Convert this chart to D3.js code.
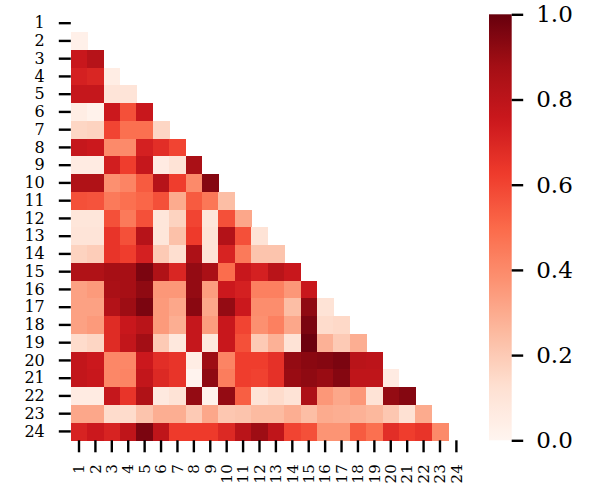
<!DOCTYPE html>
<html>
<head>
<meta charset="utf-8">
<script src="https://cdn.jsdelivr.net/npm/d3@7/dist/d3.min.js"></script>
<style>
  html, body { margin: 0; padding: 0; background: #fff; }
  text { font-family: "DejaVu Serif", serif; fill: #000; }
</style>
</head>
<body>
<svg id="chart" width="596" height="491"></svg>
<script>
// ---- data ----
const labels = d3.range(1, 25).map(String);
const colorbarTicks = [0.0, 0.2, 0.4, 0.6, 0.8, 1.0];
const redsColors = ["#fff5f0","#fee0d2","#fcbba1","#fc9272","#fb6a4a","#ef3b2c","#cb181d","#a50f15","#67000d"];
// lower triangle (row i has values for columns 1..i-1)
const corrRows = [
  [],
  [0.03],
  [0.76,0.82],
  [0.72,0.70,0.05],
  [0.77,0.77,0.10,0.10],
  [0.05,0.02,0.75,0.57,0.76],
  [0.16,0.17,0.60,0.48,0.48,0.16],
  [0.77,0.75,0.40,0.40,0.72,0.67,0.60],
  [0.06,0.06,0.73,0.62,0.77,0.06,0.11,0.86],
  [0.84,0.84,0.38,0.42,0.54,0.82,0.62,0.40,0.94],
  [0.57,0.56,0.45,0.48,0.51,0.57,0.30,0.54,0.46,0.24],
  [0.09,0.09,0.57,0.45,0.57,0.09,0.17,0.60,0.09,0.57,0.31],
  [0.10,0.10,0.65,0.57,0.82,0.09,0.23,0.63,0.11,0.83,0.57,0.11],
  [0.17,0.19,0.65,0.62,0.72,0.20,0.13,0.85,0.11,0.71,0.45,0.22,0.22],
  [0.84,0.84,0.87,0.87,0.96,0.84,0.70,0.91,0.86,0.49,0.76,0.72,0.81,0.76],
  [0.33,0.35,0.86,0.87,0.92,0.36,0.36,0.91,0.34,0.75,0.72,0.43,0.43,0.36,0.76],
  [0.33,0.33,0.83,0.89,0.96,0.35,0.31,0.93,0.31,0.91,0.75,0.39,0.39,0.24,0.92,0.11],
  [0.33,0.35,0.68,0.76,0.81,0.35,0.29,0.77,0.34,0.76,0.60,0.38,0.43,0.31,0.96,0.14,0.15],
  [0.14,0.16,0.68,0.78,0.88,0.20,0.08,0.77,0.08,0.76,0.57,0.20,0.28,0.11,0.99,0.28,0.20,0.29],
  [0.78,0.75,0.41,0.41,0.75,0.67,0.65,0.05,0.89,0.42,0.62,0.62,0.66,0.91,0.93,0.94,0.96,0.81,0.80],
  [0.78,0.76,0.41,0.42,0.78,0.69,0.65,0.01,0.92,0.44,0.62,0.61,0.66,0.90,0.92,0.90,0.94,0.79,0.79,0.06],
  [0.06,0.06,0.77,0.65,0.84,0.07,0.11,0.91,0.02,0.91,0.53,0.11,0.14,0.11,0.85,0.36,0.31,0.36,0.11,0.91,0.94],
  [0.31,0.31,0.14,0.14,0.22,0.29,0.29,0.20,0.31,0.21,0.22,0.25,0.25,0.29,0.24,0.30,0.29,0.28,0.26,0.21,0.12,0.30],
  [0.71,0.75,0.71,0.79,0.96,0.79,0.63,0.63,0.63,0.69,0.81,0.89,0.79,0.60,0.57,0.37,0.37,0.54,0.48,0.67,0.62,0.65,0.40]
];

// ---- build ----
const svg = d3.select("#chart");
const plotLeft = 70.8, plotRight = 464.6, plotTop = 14.3, plotBottom = 440.3;

const x = d3.scaleBand().domain(labels).range([plotLeft, plotRight]).padding(0);
const y = d3.scaleBand().domain(labels).range([plotTop, plotBottom]).padding(0);
const color = d3.scaleLinear()
  .domain(redsColors.map((c, i) => i / (redsColors.length - 1)))
  .range(redsColors)
  .interpolate(d3.interpolateRgb)
  .clamp(true);

const cells = [];
corrRows.forEach((row, i) => row.forEach((v, j) => cells.push({r: labels[i], c: labels[j], v})));

svg.append("g").selectAll("rect").data(cells).join("rect")
  .attr("x", d => x(d.c))
  .attr("y", d => y(d.r))
  .attr("width", x.bandwidth() + 0.4)
  .attr("height", y.bandwidth() + 0.4)
  .attr("fill", d => color(d.v))
  .attr("shape-rendering", "crispEdges");

// y axis
const yAxis = d3.axisLeft(y).tickSize(12).tickPadding(14);
const gy = svg.append("g").attr("transform", `translate(${plotLeft},0)`).call(yAxis);
gy.select(".domain").remove();
gy.selectAll(".tick line").attr("stroke", "#000").attr("stroke-width", 2.4);
gy.selectAll(".tick text").attr("font-size", 16).attr("font-family", "DejaVu Serif").attr("fill", "#000");

// x axis
const xAxis = d3.axisBottom(x).tickSize(12).tickPadding(12);
const gx = svg.append("g").attr("transform", `translate(0,${plotBottom})`).call(xAxis);
gx.select(".domain").remove();
gx.selectAll(".tick line").attr("stroke", "#000").attr("stroke-width", 2.4);
gx.selectAll(".tick text")
  .attr("font-size", 15)
  .attr("font-family", "DejaVu Serif")
  .attr("fill", "#000")
  .attr("transform", "rotate(-90)")
  .attr("text-anchor", "end")
  .attr("x", -24)
  .attr("y", 0)
  .attr("dy", "0.35em");

// colorbar
const cbX = 489, cbW = 22.7;
const cb = d3.scaleLinear().domain([0, 1]).range([plotBottom, plotTop]);
const defs = svg.append("defs");
const grad = defs.append("linearGradient").attr("id", "cbgrad")
  .attr("x1", 0).attr("y1", 1).attr("x2", 0).attr("y2", 0);
d3.range(0, 1.0001, 0.02).forEach(t => grad.append("stop").attr("offset", t).attr("stop-color", color(t)));
svg.append("rect").attr("x", cbX).attr("y", plotTop).attr("width", cbW).attr("height", plotBottom - plotTop)
  .attr("fill", "url(#cbgrad)");

const cAxis = d3.axisRight(cb).tickValues(colorbarTicks).tickFormat(d3.format(".1f")).tickSize(11.5).tickPadding(13);
const gc = svg.append("g").attr("transform", `translate(${cbX + cbW},0)`).call(cAxis);
gc.select(".domain").remove();
gc.selectAll(".tick line").attr("stroke", "#000").attr("stroke-width", 2.4);
gc.selectAll(".tick text").attr("font-size", 23).attr("font-family", "DejaVu Serif").attr("fill", "#000");
</script>
</body>
</html>
